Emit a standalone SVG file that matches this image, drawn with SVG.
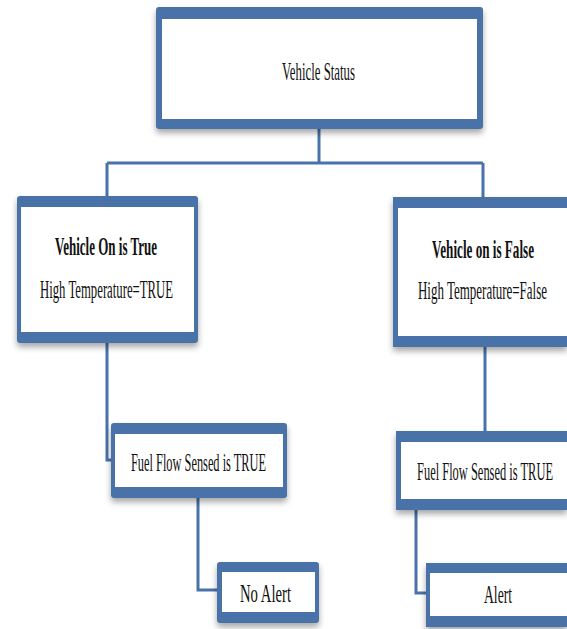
<svg xmlns="http://www.w3.org/2000/svg" width="567" height="629" viewBox="0 0 567 629">
<style>
.o{fill:#4872a9}
.i{fill:#ffffff}
.c{fill:none;stroke:#4872a9;stroke-width:3}
.t{font-family:"Liberation Serif","Times New Roman",serif;font-size:26px;fill:#111;text-anchor:start}
.b{font-weight:bold}
</style>
<defs>
<filter id="sh" x="-10%" y="-10%" width="120%" height="130%">
<feDropShadow dx="0" dy="4" stdDeviation="3" flood-color="#000" flood-opacity="0.35"/>
</filter>
</defs>
<rect width="567" height="629" fill="#fff"/>
<g id="connectors">
<path class="c" d="M319,129 V163 M107,163 H483 M107,163 V196 M483,163 V197"/>
<path class="c" d="M107,343 V460 H113"/>
<path class="c" d="M485,347 V431"/>
<path class="c" d="M198,498 V590 H219"/>
<path class="c" d="M416,510 V593 H428"/>
</g>
<g id="vehicle-status">
<rect class="o" x="156" y="7" width="327" height="122" rx="3" filter="url(#sh)"/>
<rect class="i" x="162" y="19" width="315" height="100"/>
<text class="t" x="282" y="80" textLength="73" lengthAdjust="spacingAndGlyphs">Vehicle Status</text>
</g>
<g id="vehicle-on-true">
<rect class="o" x="17" y="196" width="181" height="147" rx="3" filter="url(#sh)"/>
<rect class="i" x="21" y="207" width="173" height="125"/>
<text class="t b" x="55" y="255" textLength="102" lengthAdjust="spacingAndGlyphs">Vehicle On is True</text>
<text class="t" x="40" y="298" textLength="133" lengthAdjust="spacingAndGlyphs">High Temperature=TRUE</text>
</g>
<g id="vehicle-on-false">
<rect class="o" x="393" y="197" width="174" height="150" filter="url(#sh)"/>
<rect class="i" x="398" y="208" width="169" height="128"/>
<text class="t b" x="432" y="258" textLength="102" lengthAdjust="spacingAndGlyphs">Vehicle on is False</text>
<text class="t" x="418" y="299" textLength="129" lengthAdjust="spacingAndGlyphs">High Temperature=False</text>
</g>
<g id="fuel-left">
<rect class="o" x="111" y="423" width="176" height="75" rx="3" filter="url(#sh)"/>
<rect class="i" x="115" y="434" width="168" height="53"/>
<text class="t" x="131" y="471" textLength="135" lengthAdjust="spacingAndGlyphs">Fuel Flow Sensed is TRUE</text>
</g>
<g id="fuel-right">
<rect class="o" x="396" y="431" width="171" height="79" filter="url(#sh)"/>
<rect class="i" x="401" y="442" width="166" height="57"/>
<text class="t" x="417" y="480" textLength="136" lengthAdjust="spacingAndGlyphs">Fuel Flow Sensed is TRUE</text>
</g>
<g id="no-alert">
<rect class="o" x="217" y="562" width="102" height="61" rx="3" filter="url(#sh)"/>
<rect class="i" x="222" y="572" width="93" height="40"/>
<text class="t" x="240" y="602" textLength="51" lengthAdjust="spacingAndGlyphs">No Alert</text>
</g>
<g id="alert">
<rect class="o" x="426" y="563" width="141" height="64" filter="url(#sh)"/>
<rect class="i" x="430" y="573" width="137" height="43"/>
<text class="t" x="484" y="603" textLength="28" lengthAdjust="spacingAndGlyphs">Alert</text>
</g>
</svg>
